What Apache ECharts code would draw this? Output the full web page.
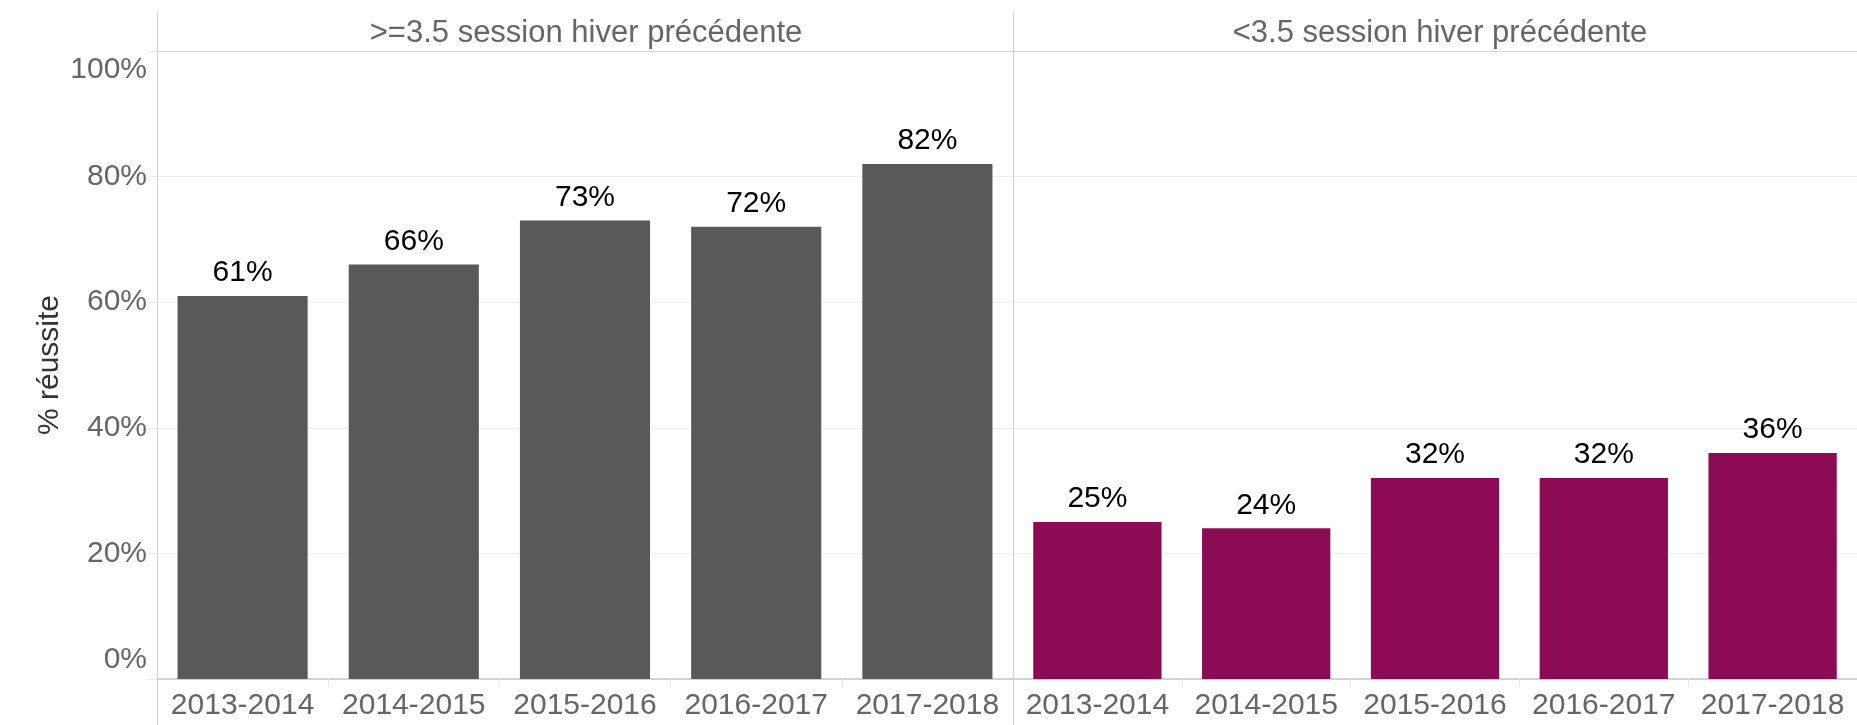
<!DOCTYPE html>
<html>
<head>
<meta charset="utf-8">
<script src="https://cdn.jsdelivr.net/npm/echarts@6/dist/echarts.min.js"></script>
<style>
  html, body { margin: 0; padding: 0; background: #fff; }
  #chart { width: 1857px; height: 725px; }
</style>
</head>
<body>
<div id="chart"></div>
<script>
// Data
const years = ['2013-2014', '2014-2015', '2015-2016', '2016-2017', '2017-2018'];
const panelTitles = ['>=3.5 session hiver précédente', '<3.5 session hiver précédente'];
const highScores = [61, 66, 73, 72, 82];
const lowScores = [25, 24, 32, 32, 36];
const yTicks = [0, 20, 40, 60, 80, 100];

// Layout
const FONT = '"Liberation Sans", Arial, sans-serif';
const plotTop = 51;
const plotBottom = 679;
const leftX = 157;
const splitX = 1013;
const rightPanelW = 852;
const fullW = 1857;
const fullH = 725;

const chart = echarts.init(document.getElementById('chart'));

function yAxisFor(gridIndex, showLabels) {
    return {
        type: 'value',
        gridIndex: gridIndex,
        min: yTicks[0],
        max: yTicks[yTicks.length - 1],
        interval: yTicks[1] - yTicks[0],
        name: showLabels ? '% réussite' : '',
        nameLocation: 'middle',
        nameGap: 92,
        nameTextStyle: { fontFamily: FONT, fontSize: 30, color: '#333' },
        axisLine: { show: true, lineStyle: { color: '#d0d0d0', width: 1 } },
        axisTick: { show: showLabels, length: 10, lineStyle: { color: '#ececec' } },
        splitLine: { show: true, lineStyle: { color: '#efefef', width: 1 } },
        axisLabel: {
            show: showLabels,
            margin: 10,
            fontFamily: FONT,
            fontSize: 30,
            color: '#666',
            formatter: function (v) {
                // end labels sit inside the plot, like the original
                if (v === yTicks[yTicks.length - 1]) return '{top|' + v + '%}';
                if (v === yTicks[0]) return '{bot|' + v + '%}';
                return v + '%';
            },
            rich: {
                top: { fontFamily: FONT, fontSize: 30, color: '#666', padding: [38, 0, 0, 0] },
                bot: { fontFamily: FONT, fontSize: 30, color: '#666', padding: [0, 0, 38, 0] }
            }
        }
    };
}

function xAxisFor(gridIndex) {
    return {
        type: 'category',
        gridIndex: gridIndex,
        data: years,
        axisLine: { show: true, lineStyle: { color: '#c8c8c8', width: 1.5 } },
        axisTick: { show: true, length: 8, lineStyle: { color: '#e6e6e6' } },
        axisLabel: { interval: 0, margin: 12, fontFamily: FONT, fontSize: 30, color: '#666' }
    };
}

const labelStyle = {
    show: true,
    position: 'top',
    distance: 8,
    fontFamily: FONT,
    fontSize: 30,
    color: '#000',
    formatter: '{c}%'
};

const option = {
    animation: false,
    backgroundColor: '#fff',
    textStyle: { fontFamily: FONT },
    title: [
        {
            text: panelTitles[0],
            left: (leftX + splitX) / 2 - 4,
            top: 13,
            textAlign: 'center',
            textStyle: { fontFamily: FONT, fontSize: 31, fontWeight: 'normal', color: '#666' }
        },
        {
            text: panelTitles[1],
            left: (splitX + fullW) / 2,
            top: 13,
            textAlign: 'center',
            textStyle: { fontFamily: FONT, fontSize: 31, fontWeight: 'normal', color: '#666' }
        }
    ],
    grid: [
        { left: leftX, top: plotTop, width: splitX - leftX, height: plotBottom - plotTop },
        { left: splitX, top: plotTop, width: rightPanelW, height: plotBottom - plotTop }
    ],
    xAxis: [xAxisFor(0), xAxisFor(1)],
    yAxis: [yAxisFor(0, true), yAxisFor(1, false)],
    series: [
        {
            type: 'bar',
            xAxisIndex: 0,
            yAxisIndex: 0,
            data: highScores,
            barCategoryGap: '24%',
            itemStyle: { color: '#595959' },
            label: labelStyle
        },
        {
            type: 'bar',
            xAxisIndex: 1,
            yAxisIndex: 1,
            data: lowScores,
            barCategoryGap: '24%',
            itemStyle: { color: '#8c0b55' },
            label: labelStyle
        }
    ],
    // panel frame: header rule and the two vertical dividers
    graphic: [
        {
            type: 'line', z: 10,
            shape: { x1: leftX, y1: plotTop + 0.5, x2: fullW, y2: plotTop + 0.5 },
            style: { stroke: '#d4d4d4', lineWidth: 1 }
        },
        {
            type: 'line', z: 10,
            shape: { x1: leftX + 0.5, y1: 12, x2: leftX + 0.5, y2: fullH },
            style: { stroke: '#d0d0d0', lineWidth: 1 }
        },
        {
            type: 'line', z: 10,
            shape: { x1: splitX + 0.5, y1: 12, x2: splitX + 0.5, y2: fullH },
            style: { stroke: '#d0d0d0', lineWidth: 1 }
        }
    ]
};

chart.setOption(option);
</script>
</body>
</html>
